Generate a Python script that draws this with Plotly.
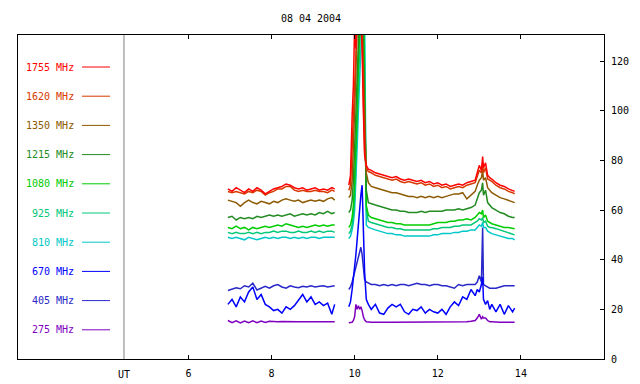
import plotly.graph_objects as go

# ---------------- data ----------------
TITLE = "08 04 2004"
X_TICKS = [6, 8, 10, 12, 14]
Y_TICKS = [0, 20, 40, 60, 80, 100, 120]
UT_POS = 4.45

LABELS = ["1755 MHz", "1620 MHz", "1350 MHz", "1215 MHz", "1080 MHz",
          "925 MHz", "810 MHz", "670 MHz", "405 MHz", "275 MHz"]

T_A = [6.95, 7.05, 7.15, 7.25, 7.35, 7.45, 7.55, 7.65, 7.75, 7.85, 7.95, 8.05, 8.15, 8.25,
       8.35, 8.45, 8.55, 8.65, 8.75, 8.85, 8.95, 9.05, 9.15, 9.25, 9.35, 9.45, 9.52]
T_B = [9.86, 9.90, 9.94, 9.97, 10.00, 10.03, 10.06, 10.09, 10.12, 10.15, 10.18, 10.21, 10.24, 10.28, 10.33,
       10.4, 10.5, 10.6, 10.7, 10.8, 10.9, 11.0, 11.1, 11.2, 11.3, 11.4, 11.5, 11.6, 11.7, 11.8, 11.9,
       12.0, 12.1, 12.2, 12.3, 12.4, 12.5, 12.6, 12.7, 12.8, 12.9,
       12.95, 13.0, 13.05, 13.08, 13.1, 13.15, 13.2, 13.25, 13.3,
       13.4, 13.5, 13.6, 13.7, 13.8, 13.85]

MHZ1755_A = [68.5, 67.5, 69, 68, 67, 68.5, 67.5, 69, 68, 66.5, 67.5, 68.5, 69, 69.5, 70.5, 70, 69, 68.5,
             69, 68, 68.5, 69, 68, 68.5, 68, 69, 68.5]
MHZ1755_B = [70, 74, 98, 110, 135, 125, 150, 160, 150, 140, 125, 100, 82, 78, 76.5,
             76, 75, 74.5, 74, 73.5, 73, 73.5, 72.5, 72, 72.5, 72, 71.5, 72, 71, 71.5, 70.5, 71, 70, 70.5,
             69.5, 70, 70.5, 70, 71, 71.5, 72,
             75, 78, 76, 81.5, 77, 79, 74, 73, 72.5,
             71, 70, 69.5, 68.5, 68, 67.5]

MHZ1620_A = [67.5, 67, 67.5, 67, 66.5, 67.5, 67, 68, 67.5, 66, 67, 67.5, 68.5, 68.5, 69.5, 69.5, 68, 67.5,
             68, 67.5, 67.5, 68, 67.5, 67.5, 67, 68, 67.5]
MHZ1620_B = [68, 70, 85, 100, 120, 135, 140, 155, 160, 145, 130, 105, 84, 77, 75.5,
             75, 74, 73.5, 73, 72.5, 72, 72.5, 71.5, 71, 71.5, 71, 70.5, 71, 70, 70.5, 69.5, 70, 69, 69.5,
             68.5, 69, 69.5, 69, 70, 70.5, 71,
             73.5, 76, 75, 79, 75, 77, 72.5, 72, 71.5,
             70, 69, 68.5, 67.5, 67, 66.5]

MHZ1350_A = [64, 63.5, 63, 61.5, 63, 64, 63, 62.5, 63.5, 63, 62.5, 63.5, 63, 64, 64.5, 64, 63.5, 64,
             63, 63.5, 64, 63.5, 64, 63.5, 64.5, 65, 64]
MHZ1350_B = [65, 66, 72, 85, 100, 115, 135, 145, 155, 150, 135, 115, 90, 75, 71,
             69.5, 69, 68.5, 68, 67.5, 67, 67, 66.5, 66, 65.5, 65.5, 65, 65.5, 65, 65.5, 65, 65.5, 65, 65.5,
             66, 66.5, 66.5, 67, 64.5, 66, 67.5,
             70, 72, 73, 76, 72, 73, 69, 68, 67,
             66, 65, 64.5, 64, 63.5, 63]

MHZ1215_A = [57, 57.5, 56, 57, 56.5, 57, 56.5, 57.5, 57, 57.5, 58, 57.5, 58, 57.5, 58, 58.5, 57.5, 58,
             58.5, 58, 58.5, 58, 59, 58.5, 59.5, 58.5, 59]
MHZ1215_B = [59, 60, 64, 72, 85, 100, 120, 135, 150, 155, 145, 125, 95, 68, 63,
             62.5, 62, 61.5, 61, 60.5, 60, 60, 59.5, 59.5, 59, 59, 59, 59.5, 59, 59.5, 59.5, 59.5, 59.5, 60,
             60, 60, 60.5, 60, 60.5, 61, 62,
             65, 67, 68, 71, 66, 68, 63, 62, 61,
             60, 59, 58.5, 57.5, 57, 57]

MHZ1080_A = [53, 52.5, 53.5, 52.5, 53, 52, 53, 52.5, 53, 53.5, 53, 53.5, 54, 53.5, 54.5, 54, 53.5, 53,
             53.5, 53, 53.5, 54, 53.5, 54, 53.5, 54, 54]
MHZ1080_B = [53, 54, 57, 62, 72, 85, 100, 120, 135, 150, 155, 140, 110, 62, 58,
             57, 56.5, 56, 55.5, 55, 55, 54.5, 54.5, 54, 54, 54, 54, 54, 54, 54, 54.5, 55, 55, 55,
             55.5, 55.5, 56, 56, 56.5, 56, 57,
             58, 59, 58.5, 60, 57, 58, 55.5, 55, 54.5,
             54, 53.5, 53, 53, 52.5, 52.5]

MHZ925_A = [51, 50.5, 51, 50.5, 50.5, 51, 50.5, 51, 50.5, 51, 51, 51.5, 51, 51.5, 51.5, 51, 51, 51.5,
            51, 51, 51.5, 51, 51.5, 51, 51.5, 51.5, 51]
MHZ925_B = [50.5, 51.5, 54, 58, 65, 78, 92, 110, 125, 140, 150, 145, 120, 60, 55.5,
            55, 54.5, 54, 53.5, 53, 53, 52.5, 52.5, 52, 52, 52, 52, 52, 52, 52, 52.5, 52.5, 53, 53,
            53, 53.5, 53.5, 54, 54, 54, 55,
            55.5, 56.5, 56, 57, 55, 55.5, 53.5, 53, 53,
            52.5, 52, 51.5, 51, 50.5, 50]

MHZ810_A = [49, 48.5, 49, 48.5, 48, 49, 48.5, 48, 48.5, 49, 48.5, 49, 48.5, 49, 49, 48.5, 49, 48.5,
            49, 48.5, 49, 49, 48.5, 49, 49, 49, 49]
MHZ810_B = [48.5, 49.5, 52, 55, 60, 70, 85, 100, 115, 130, 145, 150, 140, 54, 53,
            52.5, 52, 51.5, 51, 50.5, 50.5, 50, 50, 49.5, 49.5, 49.5, 49.5, 49.5, 49.5, 49.5, 50, 50,
            50.5, 50.5, 50.5, 51, 51, 51.5, 51.5, 52, 52,
            53, 54, 53.5, 55, 53, 53, 51.5, 51, 50.5,
            50, 49.5, 49, 48.5, 48.5, 48]

MHZ670_A = [22, 24, 21, 25, 23, 27, 29, 24, 26, 22, 21, 19.5, 20, 18.5, 21, 20, 21.5, 24,
            26, 23, 25, 22, 23, 21.5, 22.5, 18, 22]
MHZ670_B = [21, 23, 28, 32, 38, 42, 48, 55, 62, 66, 70, 52, 35, 24, 22,
            20, 22, 18.5, 18, 20.5, 22, 21, 22, 19, 18, 20, 19.5, 21, 18.5, 20, 19, 18.5, 20, 18,
            21, 23, 21.5, 25, 24, 28, 25.5,
            28, 27, 30, 33, 24, 22, 23.5, 20, 22,
            19, 22, 18, 21.5, 19, 20.5]

MHZ405_A = [27.6, 28, 28.7, 28.3, 29.5, 29, 30.5, 27.8, 28.5, 29.3, 28.5, 29.5, 30, 29, 28.5, 29.5,
            29, 28.7, 29.3, 29, 29.5, 29, 29.3, 29.5, 29, 29.3, 29.5]
MHZ405_B = [28, 29, 31, 33, 36, 38, 40, 42, 44, 45, 42, 36, 32, 31, 30.5,
            30, 30, 29.5, 30, 29.5, 30, 29.5, 30, 30, 29.5, 30, 30.5, 30, 30, 29.5, 30, 30, 29.5, 29.5,
            29, 28.5, 30, 29.5, 30, 30, 30,
            31, 33.5, 31, 53, 30, 29.5, 29, 28.5, 28.5,
            28.5, 29, 29.5, 29.5, 29.5, 29.5]

MHZ275_A = [15.5, 14.6, 15.4, 14.5, 15.3, 14.6, 15.4, 14.6, 15.3, 14.7, 15.2, 15, 15, 15.1, 15, 15,
            15.1, 15, 15, 15, 15.1, 15, 15, 15, 15, 15.1, 15]
MHZ275_B = [14.6, 14.6, 14.8, 15.5, 17, 22, 20, 21.5, 20, 21, 19.5, 17, 15.8, 15, 14.8,
            14.8, 14.8, 14.9, 14.8, 14.8, 14.8, 14.8, 14.8, 14.8, 14.8, 14.8, 14.8, 14.8, 14.8, 14.8,
            14.8, 14.8, 14.8, 14.8, 14.8, 14.8, 14.9, 14.9, 15, 15.2, 15.5,
            16.5, 18, 16, 17, 16.5, 16.5, 15.5, 15, 15,
            14.8, 14.8, 14.8, 14.8, 14.8, 14.8]

# ---------------- styling ----------------
COLORS = ["#FF0000", "#D83800", "#8C5A00", "#228B22", "#00CC00",
          "#00C878", "#00C8C8", "#0000FF", "#2828C8", "#8000C0"]
SERIES = [(MHZ1755_A, MHZ1755_B), (MHZ1620_A, MHZ1620_B), (MHZ1350_A, MHZ1350_B),
          (MHZ1215_A, MHZ1215_B), (MHZ1080_A, MHZ1080_B), (MHZ925_A, MHZ925_B),
          (MHZ810_A, MHZ810_B), (MHZ670_A, MHZ670_B), (MHZ405_A, MHZ405_B),
          (MHZ275_A, MHZ275_B)]

FONT = "DejaVu Sans Mono"
W, H = 640, 384
OFF = 8  # page body margin of the html document
# target frame in page pixels: left 18, right 604, top 35, bottom 359
ML, MT = 18 - OFF, 35 - OFF
MR, MB = W - (604 - OFF), H - (359 - OFF)
plot_h = H - MT - MB
plot_w = W - ML - MR

fig = go.Figure()
for (a, b), col in reversed(list(zip(SERIES, COLORS))):
    assert len(a) == len(T_A) and len(b) == len(T_B), (len(a), len(b))
    fig.add_trace(go.Scatter(
        x=T_A + [None] + T_B, y=a + [None] + b, mode="lines",
        line=dict(color=col, width=1.5), showlegend=False, hoverinfo="skip"))

ann = []
shapes = []
for i, (lab, col) in enumerate(zip(LABELS, COLORS)):
    ypix = 67 + 29.2 * i - OFF
    yp = (H - MB - ypix) / plot_h
    ann.append(dict(text=lab, x=(76 - OFF - ML) / plot_w, y=yp, xref="paper", yref="paper",
                    xanchor="right", yanchor="middle", showarrow=False,
                    font=dict(family=FONT, size=10, color=col)))
    shapes.append(dict(type="line", xref="paper", yref="paper",
                       x0=(82 - OFF - ML) / plot_w, x1=(110 - OFF - ML) / plot_w, y0=yp, y1=yp,
                       line=dict(color=col, width=1)))

shapes.append(dict(type="line", xref="x", yref="paper", x0=UT_POS, x1=UT_POS, y0=0, y1=1,
                   line=dict(color="#808080", width=1), layer="below"))
ann.append(dict(text="UT", x=UT_POS, y=0, xref="x", yref="paper", xanchor="center",
                yanchor="top", yshift=-8, showarrow=False,
                font=dict(family=FONT, size=10, color="black")))

fig.update_layout(
    width=W, height=H, autosize=False,
    margin=dict(l=ML, r=MR, t=MT, b=MB, autoexpand=False),
    paper_bgcolor="white", plot_bgcolor="white",
    title=dict(text=TITLE, x=(ML + plot_w / 2) / W, xanchor="center", xref="container",
               y=1 - (18 - OFF) / H, yanchor="middle", yref="container",
               font=dict(family=FONT, size=10, color="black")),
    annotations=ann, shapes=shapes,
    xaxis=dict(range=[1.9, 16], tickvals=X_TICKS, ticktext=[str(t) for t in X_TICKS],
               ticks="inside", ticklen=4, tickcolor="black", showline=True, linecolor="black",
               linewidth=1, mirror="ticks", showgrid=False, zeroline=False,
               ticklabelstandoff=5,
               tickfont=dict(family=FONT, size=10, color="black")),
    yaxis=dict(range=[0, 130.5], side="right", tickvals=Y_TICKS, ticks="inside", ticklen=4,
               tickcolor="black", showline=True, linecolor="black", linewidth=1, mirror=True,
               showgrid=False, zeroline=False, ticklabelstandoff=4,
               tickfont=dict(family=FONT, size=10, color="black")),
)

fig.write_html("out.html")
